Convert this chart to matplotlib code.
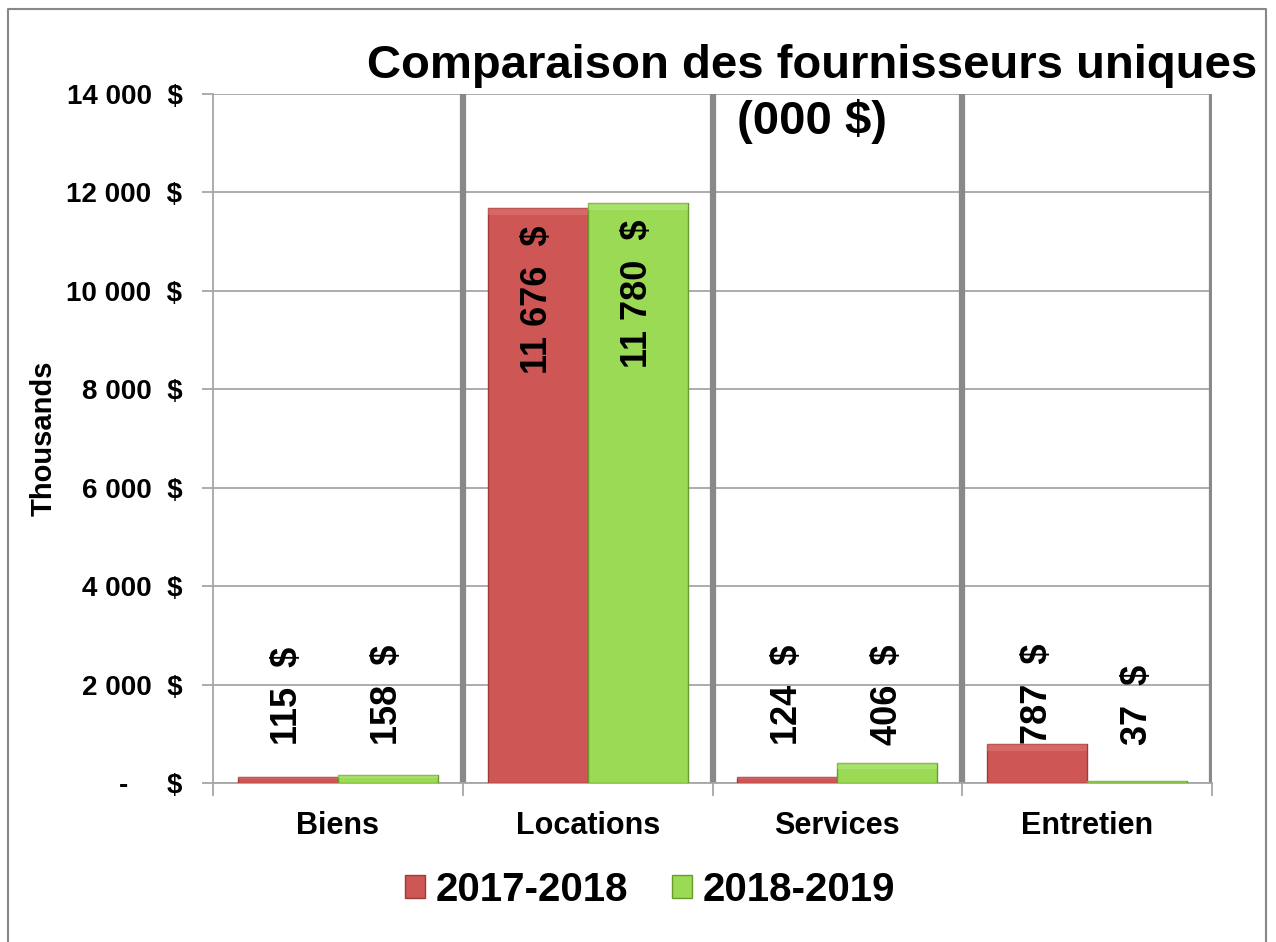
import matplotlib.pyplot as plt
import matplotlib.patches as mpatches
from matplotlib.lines import Line2D
import numpy as np

plt.rcParams['font.family'] = ['Liberation Sans', 'DejaVu Sans']
plt.rcParams['font.weight'] = 'bold'

categories = ['Biens', 'Locations', 'Services', 'Entretien']
series_names = ['2017-2018', '2018-2019']
values_2017 = [115, 11676, 124, 787]
values_2018 = [158, 11780, 406, 37]
yticks = [0, 2000, 4000, 6000, 8000, 10000, 12000, 14000]

red = '#CE5654'
red_edge = '#9E3B39'
green = '#9BDA55'
green_edge = '#6A9A2E'


def money(v):
    if v == 0:
        return '-     $'
    return f'{v:,}  $'.replace(',', ' ')


fig = plt.figure(figsize=(12.76, 9.42), dpi=100)
ax = fig.add_axes([213 / 1276, 1 - 783 / 942, (1212 - 213) / 1276, (783 - 94) / 942])

x = np.arange(len(categories))
w = 0.4
b1 = ax.bar(x - w / 2, values_2017, w, color=red, edgecolor=red_edge, linewidth=1, zorder=3)
b2 = ax.bar(x + w / 2, values_2018, w, color=green, edgecolor=green_edge, linewidth=1, zorder=3)

# thin lighter strip on top of each bar (bevel look)
for bars, col in [(b1, '#E88583'), (b2, '#BFEF8A')]:
    for r in bars:
        h = r.get_height()
        band = min(h * 0.3, 130)
        ax.add_patch(mpatches.Rectangle((r.get_x(), h - band), r.get_width(), band,
                                        color=col, alpha=0.4, lw=0, zorder=3.5))

ax.set_xlim(-0.5, len(categories) - 0.5)
ax.set_ylim(0, 14000)
ax.set_yticks(yticks)
ax.set_yticklabels([money(v) for v in yticks], fontsize=20, fontweight='bold')
ax.yaxis.grid(True, color='#A6A6A6', linewidth=1.3, zorder=0)
ax.tick_params(axis='y', length=8, width=1.3, color='#A6A6A6', pad=14)

ax.set_xticks(x)
ax.set_xticklabels(categories, fontsize=22, fontweight='bold')
ax.tick_params(axis='x', length=0, pad=20)
# boundary ticks under the axis
for xb in np.arange(-0.5, len(categories), 1):
    ax.add_line(Line2D([xb, xb], [0, -250], color='#A6A6A6', lw=1.3, clip_on=False, zorder=2))

for s in ['top', 'right']:
    ax.spines[s].set_visible(False)
ax.spines['left'].set_color('#A6A6A6')
ax.spines['left'].set_linewidth(1.3)
ax.spines['bottom'].set_color('#A6A6A6')
ax.spines['bottom'].set_linewidth(1.3)

# thick separators between categories
for xb in np.arange(0.5, len(categories), 1):
    ax.axvline(xb, color='#898989', linewidth=4.5, zorder=2)

ax.set_ylabel('Thousands', fontsize=21, fontweight='bold', labelpad=6)

# data labels
for bars, vals in [(b1, values_2017), (b2, values_2018)]:
    for r, v in zip(bars, vals):
        cx = r.get_x() + r.get_width() / 2
        if v > 5000:
            ax.annotate(money(v), (cx, v), xytext=(0, -12), textcoords='offset points',
                        rotation=90, ha='center', va='top', fontsize=26,
                        fontweight='bold', zorder=5)
        else:
            ax.text(cx, max(v, 780), money(v), rotation=90, ha='center', va='bottom',
                    fontsize=26, fontweight='bold', zorder=5)

fig.text(812 / 1276, 1 - 44 / 942, 'Comparaison des fournisseurs uniques\n(000 $)',
         ha='center', va='top', fontsize=34, fontweight='bold', linespacing=1.3)

handles = [mpatches.Patch(facecolor=red, edgecolor=red_edge, label=series_names[0]),
           mpatches.Patch(facecolor=green, edgecolor=green_edge, label=series_names[1])]
fig.legend(handles=handles, loc='center', bbox_to_anchor=(650 / 1276, 1 - 890 / 942),
           ncol=2, frameon=False, prop={'size': 29, 'weight': 'bold'},
           handlelength=0.5, handleheight=0.5, handletextpad=0.25, columnspacing=1.1)

# outer chart border
fig.add_artist(Line2D([8 / 1276, 8 / 1276, 1266 / 1276, 1266 / 1276],
                      [0, 1 - 9 / 942, 1 - 9 / 942, 0],
                      transform=fig.transFigure, color='#888888', lw=1.5))

fig.savefig('out.png', dpi=100)
